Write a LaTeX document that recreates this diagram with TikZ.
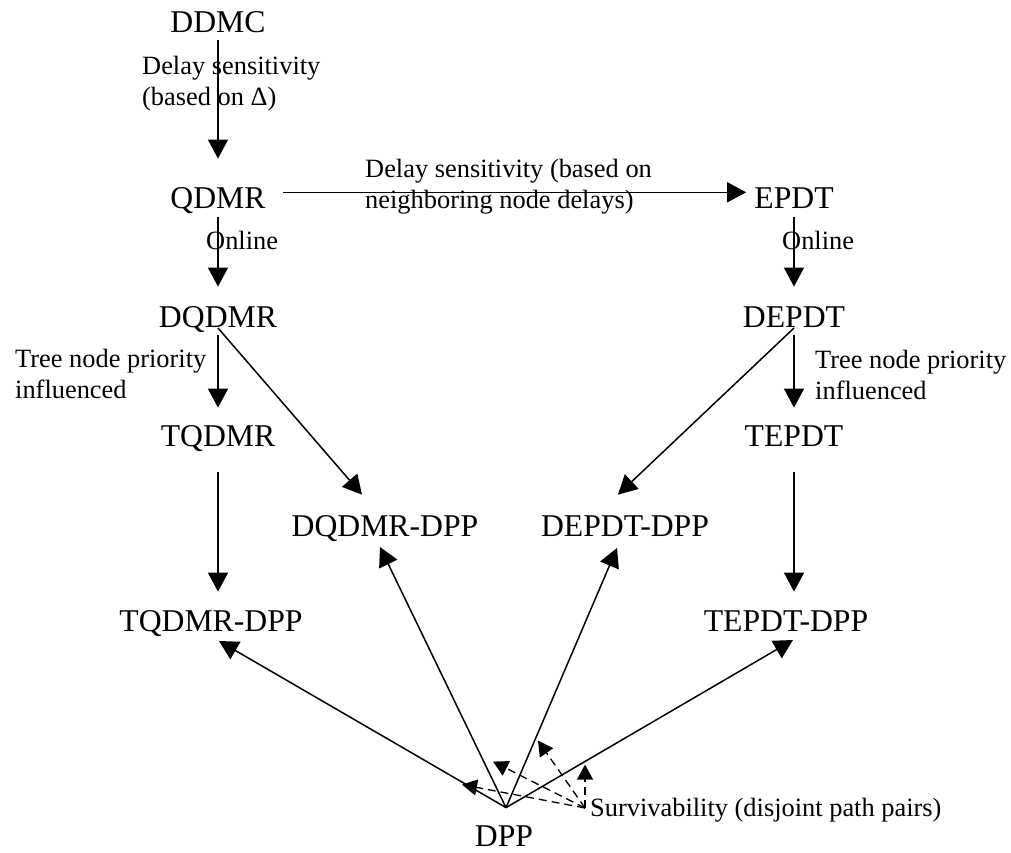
\documentclass[tikz,border=0pt]{standalone}
\usepackage{fontspec}
\setmainfont{Liberation Serif}
\usetikzlibrary{arrows.meta,calc}
\begin{document}
\begin{tikzpicture}[x=1pt,y=-1pt,
  nd/.style={inner sep=0pt,text height=21pt,text depth=0pt,anchor=south,font=\fontsize{31.7}{38}\selectfont},
  lbl/.style={inner sep=0pt,align=left,font=\fontsize{26.4}{31}\selectfont},
  arr/.style={line width=1.5pt,-{Triangle[length=19pt,width=20pt]}},
  darr/.style={line width=1.3pt,dash pattern=on 8pt off 5pt,-{Triangle[length=15pt,width=16pt]}}]
\useasboundingbox (0,0) rectangle (1011,852);

% nodes (placed at centre x, baseline y)
\node[nd] (ddmc) at (218,33) {DDMC};
\node[nd] (qdmr) at (218,209) {QDMR};
\node[nd] (epdt) at (794,209) {EPDT};
\node[nd] (dqdmr) at (218,328) {DQDMR};
\node[nd] (depdt) at (794,328) {DEPDT};
\node[nd] (tqdmr) at (218,447) {TQDMR};
\node[nd] (tepdt) at (794,447) {TEPDT};
\node[nd] (dqdmrdpp) at (385,537) {DQDMR-DPP};
\node[nd] (depdtdpp) at (625,537) {DEPDT-DPP};
\node[nd] (tqdmrdpp) at (211,632) {TQDMR-DPP};
\node[nd] (tepdtdpp) at (786,632) {TEPDT-DPP};
\node[nd] (dpp) at (504,847) {DPP};

% labels
\node[lbl,anchor=north west] (l1) at (142,56) {Delay sensitivity\\(based on Δ)};
\node[lbl,anchor=north west] (l2) at (365,159) {Delay sensitivity (based on\\neighboring node delays)};
\node[lbl,anchor=base west] (on1) at (206,249) {Online};
\node[lbl,anchor=base west] (on2) at (782,249) {Online};
\node[lbl,anchor=north west] (tr1) at (15,349) {Tree node priority\\influenced};
\node[lbl,anchor=north west] (tr2) at (815,350) {Tree node priority\\influenced};
\node[lbl,anchor=base west] (surv) at (590,816) {Survivability (disjoint path pairs)};

% connectors
\draw[arr] ($(ddmc.south)+(0,7)$) -- ($(qdmr.north)+(0,-29)$);
\draw[arr] ($(qdmr.east)+(17,-6)$) -- ($(epdt.west)+(-8,-6)$);
\draw[arr] ($(qdmr.south)+(0,8)$) -- ($(dqdmr.north)+(0,-20)$);
\draw[arr] ($(epdt.south)+(0,8)$) -- ($(depdt.north)+(0,-20)$);
\draw[arr] ($(dqdmr.south)+(0,7)$) -- ($(tqdmr.north)+(0,-18)$);
\draw[arr] ($(depdt.south)+(0,7)$) -- ($(tepdt.north)+(0,-18)$);
\draw[arr] (dqdmr.south) -- ($(dqdmrdpp.north)+(-23,-21)$);
\draw[arr] (depdt.south) -- ($(depdtdpp.north)+(-7,-21)$);
\draw[arr] ($(tqdmr.south)+(0,25)$) -- ($(tqdmrdpp.north -| tqdmr.south)+(0,-19)$);
\draw[arr] ($(tepdt.south)+(0,25)$) -- ($(tepdtdpp.north -| tepdt.south)+(0,-19)$);

\coordinate (apex) at ($(dpp.north)+(2,-18)$);
\draw[arr] (apex) -- ($(tqdmrdpp.south)+(8,9)$);
\draw[arr] (apex) -- ($(dqdmrdpp.south)+(-5,10)$);
\draw[arr] (apex) -- ($(depdtdpp.south)+(-8,11)$);
\draw[arr] (apex) -- ($(tepdtdpp.south)+(7,8)$);

\coordinate (src) at ($(surv.base west)+(-5,-8)$);
\draw[darr] (src) -- ($(apex)+(-44,-23)$);
\draw[darr] (src) -- ($(apex)+(-13,-46)$);
\draw[darr] (src) -- ($(apex)+(32,-67)$);
\draw[darr] (src) -- ($(apex)+(79,-43)$);
\end{tikzpicture}
\end{document}
